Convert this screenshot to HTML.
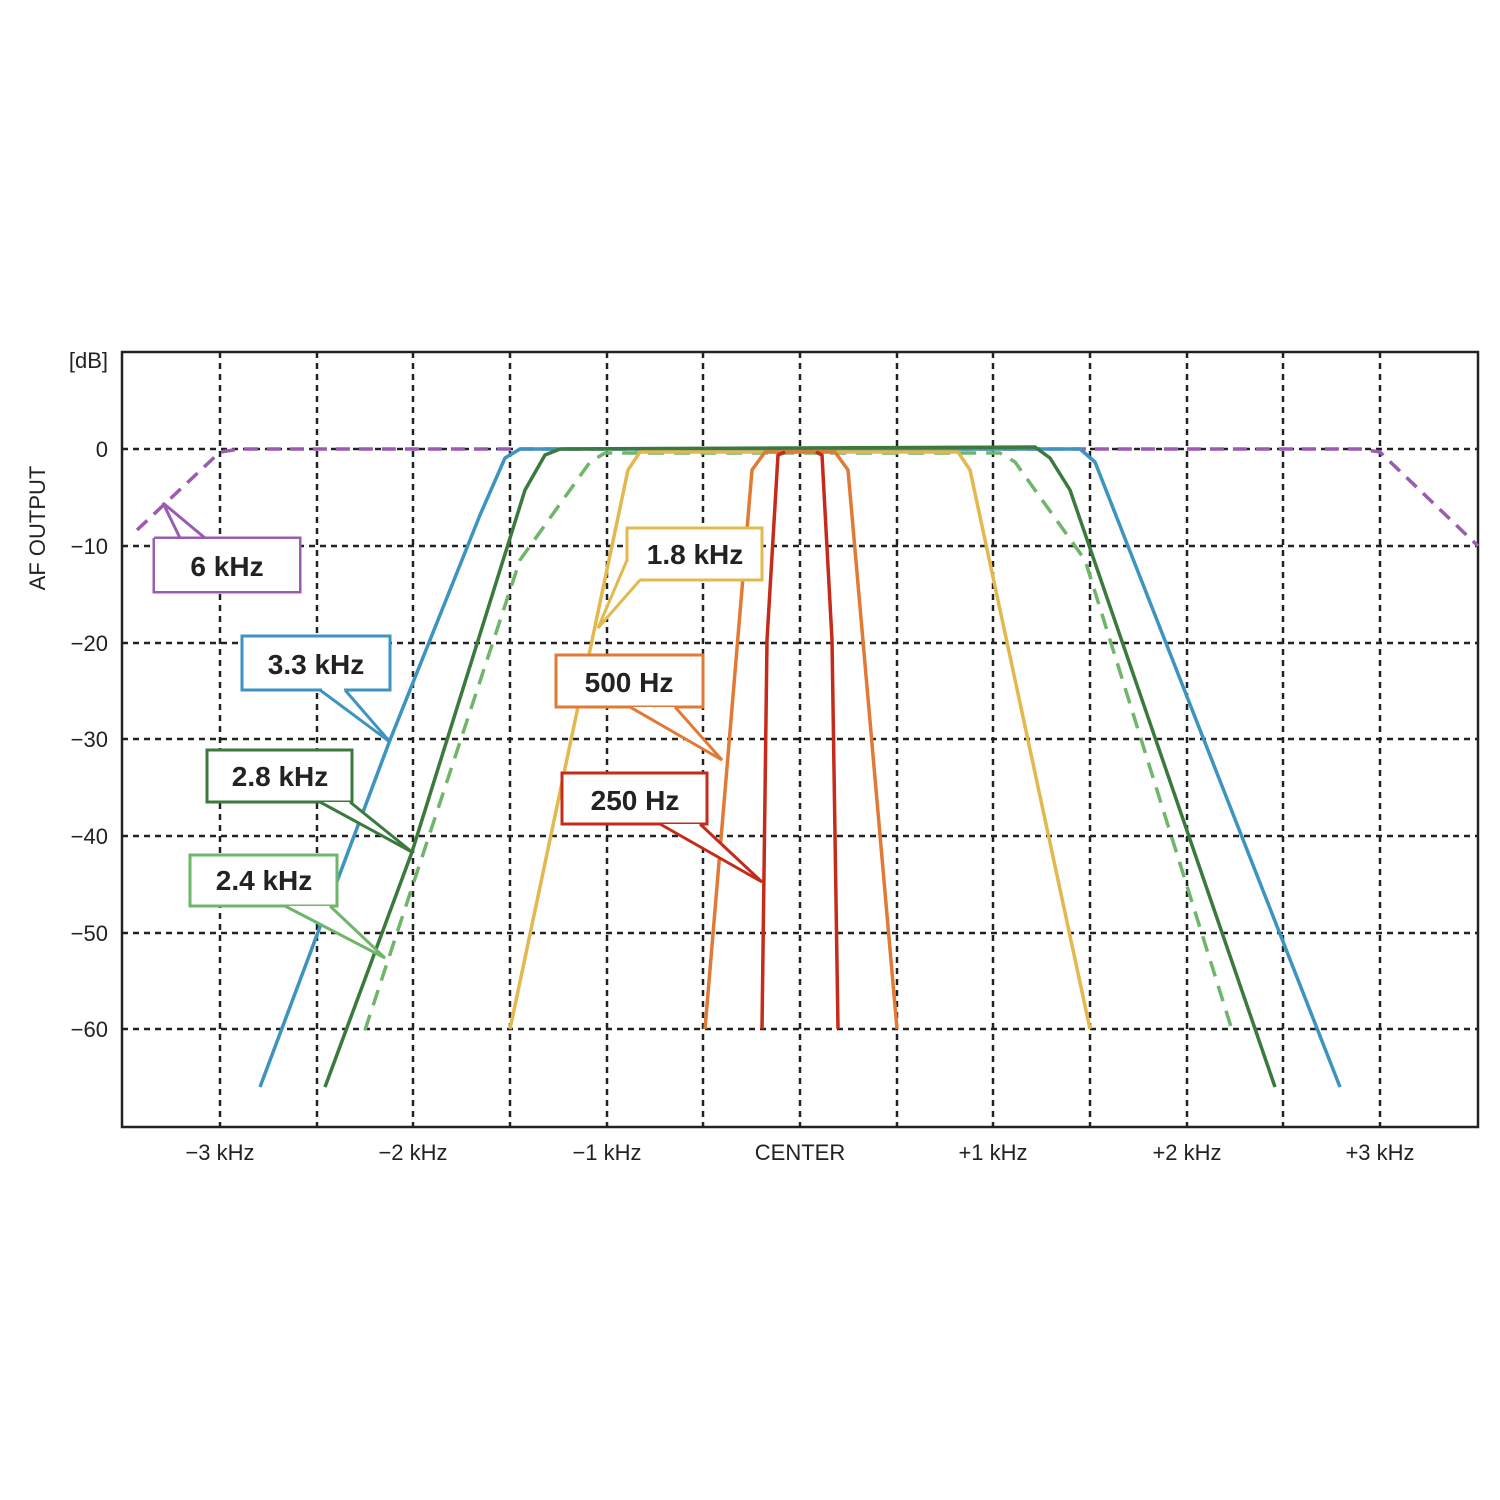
<!DOCTYPE html>
<html><head><meta charset="utf-8"><style>
html,body{margin:0;padding:0;background:#fff;width:1500px;height:1500px;overflow:hidden}
svg{display:block}
</style></head><body>
<svg width="1500" height="1500" viewBox="0 0 1500 1500" xmlns="http://www.w3.org/2000/svg" font-family="Liberation Sans, sans-serif">
<rect width="1500" height="1500" fill="#fff"/>
<g stroke="#222" stroke-width="2.5" stroke-dasharray="6,5">
<line x1="220" y1="352" x2="220" y2="1127"/><line x1="317" y1="352" x2="317" y2="1127"/>
<line x1="413" y1="352" x2="413" y2="1127"/><line x1="510" y1="352" x2="510" y2="1127"/>
<line x1="607" y1="352" x2="607" y2="1127"/><line x1="703" y1="352" x2="703" y2="1127"/>
<line x1="800" y1="352" x2="800" y2="1127"/><line x1="897" y1="352" x2="897" y2="1127"/>
<line x1="993" y1="352" x2="993" y2="1127"/><line x1="1090" y1="352" x2="1090" y2="1127"/>
<line x1="1187" y1="352" x2="1187" y2="1127"/><line x1="1283" y1="352" x2="1283" y2="1127"/>
<line x1="1380" y1="352" x2="1380" y2="1127"/>
<line x1="122" y1="449" x2="1478" y2="449"/><line x1="122" y1="546" x2="1478" y2="546"/>
<line x1="122" y1="643" x2="1478" y2="643"/><line x1="122" y1="739" x2="1478" y2="739"/>
<line x1="122" y1="836" x2="1478" y2="836"/><line x1="122" y1="933" x2="1478" y2="933"/>
<line x1="122" y1="1029" x2="1478" y2="1029"/>
</g>
<rect x="122" y="352" width="1356" height="775" fill="none" stroke="#222" stroke-width="2.5"/>
<g fill="none" stroke-width="3.5" stroke-linejoin="round">
<path d="M137,530 L220,452 L240,449 L1360,449 L1380,452 L1478,546" stroke="#9a5bb0" stroke-dasharray="14,9"/>
<path d="M260,1087 L390,740 L480,515 L505,458 L520,449 L1080,449 L1095,462 L1340,1087" stroke="#3d94c0"/>
<path d="M325,1087 L412,852 L525,490 L545,455 L560,449 L1035,447 L1050,458 L1070,490 L1275,1087" stroke="#3a7a3c"/>
<path d="M365,1030 L520,560 L590,462 L605,453 L1000,453 L1015,462 L1085,560 L1232,1030" stroke="#6fb56a" stroke-dasharray="16,10"/>
<path d="M510,1029 L628,470 L640,452 L958,452 L970,470 L1090,1029" stroke="#e3b84e"/>
<path d="M705,1029 L752,470 L765,452 L835,452 L848,470 L897,1029" stroke="#e07a35"/>
<path d="M762,1029 L767,640 L778,455 L785,452 M816,452 L822,455 L832,640 L838,1029" stroke="#c42b1a"/>
</g>
<g font-size="22" fill="#222" text-anchor="middle">
<text x="220" y="1160">−3 kHz</text><text x="413" y="1160">−2 kHz</text>
<text x="607" y="1160">−1 kHz</text><text x="800" y="1160">CENTER</text>
<text x="993" y="1160">+1 kHz</text><text x="1187" y="1160">+2 kHz</text>
<text x="1380" y="1160">+3 kHz</text>
</g>
<g font-size="22" fill="#222" text-anchor="end">
<text x="108" y="368">[dB]</text><text x="108" y="457">0</text><text x="108" y="554">−10</text>
<text x="108" y="651">−20</text><text x="108" y="747">−30</text><text x="108" y="844">−40</text>
<text x="108" y="941">−50</text><text x="108" y="1037">−60</text>
</g>
<text x="45" y="528" font-size="22" fill="#222" text-anchor="middle" transform="rotate(-90 45 528)">AF OUTPUT</text>
<g font-size="28" font-weight="bold" fill="#222" stroke-width="3">
<path d="M154,538 H300 V592 H154 V538 M180,538 L163,503 L205,538" fill="#fff" stroke="#9a5bb0"/>
<rect x="155" y="539" width="144" height="52" fill="#fff"/>
<text x="227" y="576" text-anchor="middle" stroke="none">6 kHz</text>
<path d="M242,636 H390 V690 H242 Z" fill="#fff" stroke="#3d94c0"/>
<path d="M320,690 L390,742 L345,690" fill="#fff" stroke="#3d94c0"/><rect x="322" y="686" width="22" height="4" fill="#fff"/>
<text x="316" y="674" text-anchor="middle" stroke="none">3.3 kHz</text>
<path d="M207,750 H352 V802 H207 Z" fill="#fff" stroke="#3a7a3c"/>
<path d="M320,802 L412,852 L350,802" fill="#fff" stroke="#3a7a3c"/>
<text x="280" y="786" text-anchor="middle" stroke="none">2.8 kHz</text>
<path d="M190,855 H337 V906 H190 Z" fill="#fff" stroke="#6fb56a"/>
<path d="M285,906 L385,958 L330,906" fill="#fff" stroke="#6fb56a"/>
<text x="264" y="890" text-anchor="middle" stroke="none">2.4 kHz</text>
<path d="M627,528 H762 V580 H627 Z" fill="#fff" stroke="#e3b84e"/>
<path d="M627,560 L598,628 L640,580" fill="#fff" stroke="#e3b84e"/>
<text x="695" y="564" text-anchor="middle" stroke="none">1.8 kHz</text>
<path d="M556,655 H703 V707 H556 Z" fill="#fff" stroke="#e07a35"/>
<path d="M630,707 L722,760 L675,707" fill="#fff" stroke="#e07a35"/>
<text x="629" y="692" text-anchor="middle" stroke="none">500 Hz</text>
<path d="M562,773 H707 V824 H562 Z" fill="#fff" stroke="#c42b1a"/>
<path d="M660,824 L762,882 L700,824" fill="#fff" stroke="#c42b1a"/>
<text x="635" y="810" text-anchor="middle" stroke="none">250 Hz</text>
</g>
</svg>
</body></html>
